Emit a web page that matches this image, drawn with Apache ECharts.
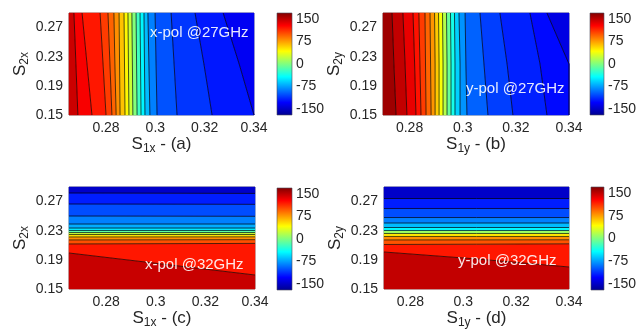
<!DOCTYPE html>
<html><head><meta charset="utf-8">
<script src="https://cdn.jsdelivr.net/npm/echarts@6/dist/echarts.min.js"></script>
<style>html,body{margin:0;padding:0;background:#fff}#c{width:639px;height:333px}</style>
</head><body><div id="c"></div>
<script>
// ---- axis extents and ticks ----
const xRangeAC = [0.265, 0.34];
const xRangeBD = [0.27, 0.34];
const yRange = [0.15, 0.29];
const xTicks = [0.28, 0.30, 0.32, 0.34];
const yTicks = [0.15, 0.19, 0.23, 0.27];
const cbTicks = [-150, -75, 0, 75, 150];
const cbRange = [-170, 170];

// ---- panel (a): x-pol @27GHz, contour lines x(S2x) sampled at S2x = 0.15, 0.22, 0.29 ----
const aSampleY = [0.15, 0.22, 0.29];
const aLineX = [
  [0.2686, 0.2678, 0.2670], [0.2743, 0.2723, 0.2703], [0.2800, 0.2788, 0.2776],
  [0.2824, 0.2816, 0.2808], [0.2841, 0.2836, 0.2832], [0.2857, 0.2855, 0.2853],
  [0.2877, 0.2875, 0.2873], [0.2893, 0.2891, 0.2889], [0.2909, 0.2907, 0.2905],
  [0.2926, 0.2924, 0.2922], [0.2942, 0.2940, 0.2938], [0.2958, 0.2956, 0.2954],
  [0.2978, 0.2974, 0.2970], [0.3007, 0.3003, 0.2999], [0.3088, 0.3076, 0.3064],
  [0.3230, 0.3197, 0.3161], [0.3435, 0.3340, 0.3275]
];
const aValues = [145, 130, 120, 108, 95, 80, 63, 45, 25, 2, -22, -45, -65, -85, -100, -110, -120, -132];

// ---- panel (b): y-pol @27GHz ----
const bSampleY = [0.15, 0.22, 0.29];
const bLineX = [
  [0.2749, 0.2741, 0.2734], [0.2790, 0.2783, 0.2775], [0.2824, 0.2819, 0.2813],
  [0.2843, 0.2839, 0.2835], [0.2862, 0.2860, 0.2858], [0.2881, 0.2879, 0.2877],
  [0.2896, 0.2896, 0.2894], [0.2911, 0.2911, 0.2909], [0.2926, 0.2926, 0.2924],
  [0.2941, 0.2941, 0.2939], [0.2956, 0.2956, 0.2954], [0.2971, 0.2971, 0.2969],
  [0.2990, 0.2990, 0.2986], [0.3016, 0.3012, 0.3009], [0.3095, 0.3080, 0.3065],
  [0.3189, 0.3167, 0.3140], [0.3317, 0.3291, 0.3253], [0.3650, 0.3483, 0.3317]
];
const bValues = [160, 148, 135, 122, 108, 94, 78, 60, 40, 18, -8, -35, -58, -78, -95, -107, -117, -125, -138];

// ---- panel (c): x-pol @32GHz, contour lines y(S1x) sampled at S1x = 0.265, 0.3025, 0.34 ----
const cSampleX = [0.265, 0.3025, 0.34];
const cLineY = [
  [0.1994, 0.1843, 0.1692], [0.2118, 0.2122, 0.2126], [0.2173, 0.2175, 0.2177],
  [0.2214, 0.2215, 0.2216], [0.2248, 0.2248, 0.2248], [0.2275, 0.2275, 0.2275],
  [0.2303, 0.2303, 0.2303], [0.2337, 0.2337, 0.2337], [0.2392, 0.2392, 0.2392],
  [0.2502, 0.2500, 0.2498], [0.2667, 0.2665, 0.2662], [0.2818, 0.2815, 0.2812]
];
const cValues = [146, 120, 101, 80, 53, 25, -12, -50, -70, -85, -102, -118, -148];

// ---- panel (d): y-pol @32GHz ----
const dSampleX = [0.27, 0.305, 0.34];
const dLineY = [
  [0.2008, 0.1912, 0.1802], [0.2111, 0.2115, 0.2120], [0.2173, 0.2174, 0.2175],
  [0.2221, 0.2221, 0.2221], [0.2262, 0.2262, 0.2262], [0.2303, 0.2303, 0.2303],
  [0.2344, 0.2344, 0.2344], [0.2406, 0.2406, 0.2406], [0.2481, 0.2481, 0.2481],
  [0.2605, 0.2605, 0.2605], [0.2742, 0.2742, 0.2742]
];
const dValues = [148, 120, 100, 80, 50, 10, -45, -65, -85, -102, -118, -148];

const panelLabels = ['x-pol @27GHz', 'y-pol @27GHz', 'x-pol @32GHz', 'y-pol @32GHz'];
const xNames = ['{s|S}{sub|1x}{s| - (a)}', '{s|S}{sub|1y}{s| - (b)}', '{s|S}{sub|1x}{s| - (c)}', '{s|S}{sub|1y}{s| - (d)}'];
const yNames = ['{s|S}{sub|2x}', '{s|S}{sub|2y}', '{s|S}{sub|2x}', '{s|S}{sub|2y}'];

// ---- jet colormap ----
const jetStops = [[0, [0, 0, 143]], [0.125, [0, 0, 255]], [0.375, [0, 255, 255]], [0.625, [255, 255, 0]], [0.875, [255, 0, 0]], [1, [128, 0, 0]]];
function jet(v) {
  let t = (v - cbRange[0]) / (cbRange[1] - cbRange[0]);
  t = Math.max(0, Math.min(1, t));
  for (let i = 1; i < jetStops.length; i++) {
    if (t <= jetStops[i][0]) {
      const a = jetStops[i - 1], b = jetStops[i];
      const f = (t - a[0]) / (b[0] - a[0]);
      const c = a[1].map((ch, k) => Math.round(ch + (b[1][k] - ch) * f));
      return 'rgb(' + c.join(',') + ')';
    }
  }
  return 'rgb(128,0,0)';
}

// boundary polylines (data units): frame edges + contour lines
function verticalBoundaries(lineX, sampleY, xr) {
  const b = [sampleY.map(y => [xr[0], y])];
  lineX.forEach(l => b.push(l.map((x, k) => [x, sampleY[k]])));
  b.push(sampleY.map(y => [xr[1], y]));
  return b;
}
function horizontalBoundaries(lineY, sampleX, yr) {
  const b = [sampleX.map(x => [x, yr[0]])];
  lineY.forEach(l => b.push(l.map((y, k) => [sampleX[k], y])));
  b.push(sampleX.map(x => [x, yr[1]]));
  return b;
}

const panels = [
  { grid: { left: 69, top: 13, width: 185, height: 102 }, cb: { left: 277, top: 13, width: 15, height: 102 },
    xr: xRangeAC, bounds: verticalBoundaries(aLineX, aSampleY, xRangeAC), values: aValues,
    text: [150, 33] },
  { grid: { left: 383, top: 13, width: 186, height: 102 }, cb: { left: 590, top: 13, width: 15, height: 102 },
    xr: xRangeBD, bounds: verticalBoundaries(bLineX, bSampleY, xRangeBD), values: bValues,
    text: [466, 89] },
  { grid: { left: 69, top: 187, width: 186, height: 102 }, cb: { left: 277, top: 188, width: 15, height: 102 },
    xr: xRangeAC, bounds: horizontalBoundaries(cLineY, cSampleX, yRange), values: cValues,
    text: [145, 265] },
  { grid: { left: 384, top: 187, width: 185, height: 102 }, cb: { left: 591, top: 187, width: 15, height: 103 },
    xr: xRangeBD, bounds: horizontalBoundaries(dLineY, dSampleX, yRange), values: dValues,
    text: [458, 261] }
];

const FONT = '"Liberation Sans", Arial, sans-serif';
const grids = [], xAxes = [], yAxes = [], series = [], graphics = [];

const fmt = v => String(+(+v).toFixed(2));
const nameRich = { s: { fontSize: 17, fontFamily: FONT, color: '#262626' }, sub: { fontSize: 12, fontFamily: FONT, color: '#262626', padding: [9, 0, 0, 0] } };
const clipTo = (pts, cs) => echarts.graphic.clipPointsByRect(pts, { x: cs.x, y: cs.y, width: cs.width, height: cs.height });

panels.forEach((p, i) => {
  const gi = grids.length;
  grids.push(Object.assign({ show: true, borderColor: '#3a3a3a', borderWidth: 0.6, backgroundColor: 'transparent' }, p.grid));
  xAxes.push({
    gridIndex: gi, type: 'value', min: p.xr[0], max: p.xr[1],
    axisLabel: { customValues: xTicks, formatter: fmt, fontSize: 14, fontFamily: FONT, color: '#262626', margin: 6, showMinLabel: true, showMaxLabel: true },
    axisTick: { show: false }, axisLine: { show: false }, splitLine: { show: false },
    name: xNames[i], nameLocation: 'middle', nameGap: 18, nameTextStyle: { rich: nameRich }
  });
  yAxes.push({
    gridIndex: gi, type: 'value', min: yRange[0], max: yRange[1],
    axisLabel: { customValues: yTicks, formatter: fmt, fontSize: 14, fontFamily: FONT, color: '#262626', margin: 6, showMinLabel: true, showMaxLabel: true },
    axisTick: { show: false }, axisLine: { show: false }, splitLine: { show: false },
    name: yNames[i], nameLocation: 'middle', nameGap: 38, nameRotate: 90, nameTextStyle: { rich: nameRich }
  });
  const bounds = p.bounds, values = p.values;
  series.push({
    type: 'custom', xAxisIndex: gi, yAxisIndex: gi, clip: false, silent: true,
    data: values.map((v, k) => [k]),
    renderItem: (params, api) => {
      const k = api.value(0);
      const pts = clipTo(bounds[k].concat(bounds[k + 1].slice().reverse()).map(d => api.coord(d)), params.coordSys);
      const col = jet(values[k]);
      return { type: 'polygon', shape: { points: pts }, style: { fill: col, stroke: col, lineWidth: 0.5 } };
    }
  });
  series.push({
    type: 'custom', xAxisIndex: gi, yAxisIndex: gi, clip: false, silent: true, z: 3,
    data: bounds.slice(1, bounds.length - 1).map((b, k) => [k + 1]),
    renderItem: (params, api) => {
      const k = api.value(0);
      const pts = clipTo(bounds[k].map(d => api.coord(d)), params.coordSys);
      return { type: 'polyline', shape: { points: pts }, style: { fill: null, stroke: 'rgba(0,0,0,0.85)', lineWidth: 0.8 } };
    }
  });
  // colorbar
  const ci = grids.length;
  grids.push(Object.assign({ show: false }, p.cb));
  xAxes.push({ gridIndex: ci, type: 'value', min: 0, max: 1, show: false });
  yAxes.push({
    gridIndex: ci, type: 'value', min: cbRange[0], max: cbRange[1], position: 'right',
    axisLabel: { customValues: cbTicks, fontSize: 14, fontFamily: FONT, color: '#262626', margin: 4, showMinLabel: true, showMaxLabel: true },
    axisTick: { show: false }, axisLine: { show: false }, splitLine: { show: false }
  });
  series.push({
    type: 'custom', xAxisIndex: ci, yAxisIndex: ci, silent: true,
    data: [[0]],
    renderItem: (params, api) => {
      const a = api.coord([0, cbRange[1]]), b = api.coord([1, cbRange[0]]);
      return {
        type: 'rect', shape: { x: a[0], y: a[1], width: b[0] - a[0], height: b[1] - a[1] },
        style: {
          fill: new echarts.graphic.LinearGradient(0, 1, 0, 0, jetStops.map(s => ({ offset: s[0], color: 'rgb(' + s[1].join(',') + ')' }))),
          stroke: '#4a4a5a', lineWidth: 0.6
        }
      };
    }
  });
  graphics.push({
    type: 'text', x: p.text[0], y: p.text[1], z: 100, silent: true,
    style: { text: panelLabels[i], fill: 'rgba(255,255,255,0.9)', fontSize: 15, fontFamily: FONT, verticalAlign: 'middle', align: 'left' }
  });
});

const chart = echarts.init(document.getElementById('c'), null, { renderer: 'canvas' });
chart.setOption({
  animation: false,
  backgroundColor: '#fff',
  grid: grids, xAxis: xAxes, yAxis: yAxes, series: series, graphic: graphics
});
</script></body></html>
